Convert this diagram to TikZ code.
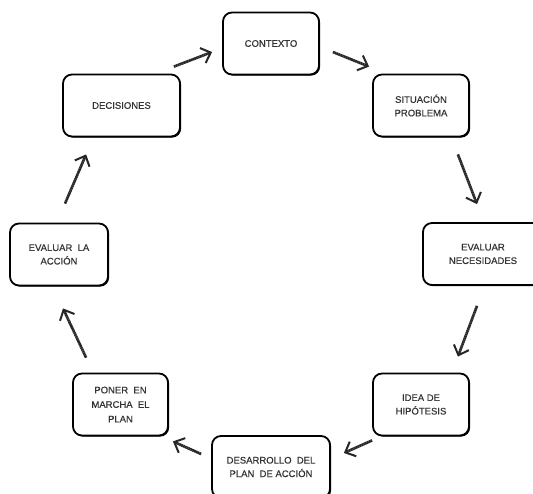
\documentclass[tikz,border=0pt]{standalone}
\usepackage{fontspec}
\setmainfont{Liberation Sans}
\newfontfamily\stagefont{Liberation Sans}[FakeBold=0.35]
\usepackage{tikz}
\usetikzlibrary{arrows.meta, shadows}

\begin{document}
\begin{tikzpicture}[x=1pt, y=-1pt,
  stage/.style={draw=black, fill=white, rounded corners=9pt, line width=1.8pt,
                minimum width=96pt, minimum height=62pt, align=center,
                font=\stagefont\fontsize{9.5}{13.5}\selectfont, text=black!80,
                general shadow={shadow xshift=1.1pt, shadow yshift=-1.1pt, fill=black}},
  arrow/.style={-{Straight Barb[length=8.5pt, width=16pt, line width=2pt]},
                line width=2.7pt, color=black!85, dash pattern=on 1.6pt off 0.4pt}
]
\useasboundingbox (0,0) rectangle (533,493);
\clip (0,0) rectangle (533,493);

% Top of the cycle
\node[stage] (contexto) at (271, 43.5) {CONTEXTO};
\node[stage] (situacion) at (421, 105.5) {SITUACIÓN\\PROBLEMA};
\node[stage, minimum width=120pt] (necesidades) at (483, 254) {EVALUAR\\NECESIDADES};
\node[stage] (hipotesis) at (421, 404.5) {IDEA DE\\HIPÓTESIS};

% Bottom and left side
\node[stage, minimum width=118pt] (desarrollo) at (271, 467) {DESARROLLO\ \ DEL\\PLAN\ \ DE ACCIÓN};
\node[stage, minimum width=95pt, font=\stagefont\fontsize{9.5}{14.5}\selectfont] (poner) at (120.5, 404.5) {PONER\ \ EN\\MARCHA\ \ EL\\PLAN};
\node[stage, minimum width=98pt] (evaluar) at (59, 254.5) {EVALUAR\ \ LA\\ACCIÓN};
\node[stage, minimum width=117pt] (decisiones) at (121.5, 105.5) {DECISIONES};

% Arrows round the cycle
\draw[arrow] ([shift={(-7,-7)}]decisiones.north east) -- ([shift={(-10,8.5)}]contexto.west);
\draw[arrow] ([shift={(13,8.5)}]contexto.east) -- ([shift={(-3,-7)}]situacion.north west);
\draw[arrow] ([shift={(-12,17)}]situacion.south east) -- ([shift={(-6,-18)}]necesidades.north);
\draw[arrow] ([shift={(-6,20)}]necesidades.south) -- ([shift={(-12,-16)}]hipotesis.north east);
\draw[arrow] ([shift={(0,4)}]hipotesis.south west) -- ([shift={(13,-14)}]desarrollo.east);
\draw[arrow] ([shift={(-10,-13)}]desarrollo.west) -- ([shift={(4,5)}]poner.south east);
\draw[arrow] ([shift={(14,-15)}]poner.north west) -- ([shift={(4,22)}]evaluar.south);
\draw[arrow] ([shift={(6,-19)}]evaluar.north) -- ([shift={(24,17)}]decisiones.south west);

\end{tikzpicture}
\end{document}
